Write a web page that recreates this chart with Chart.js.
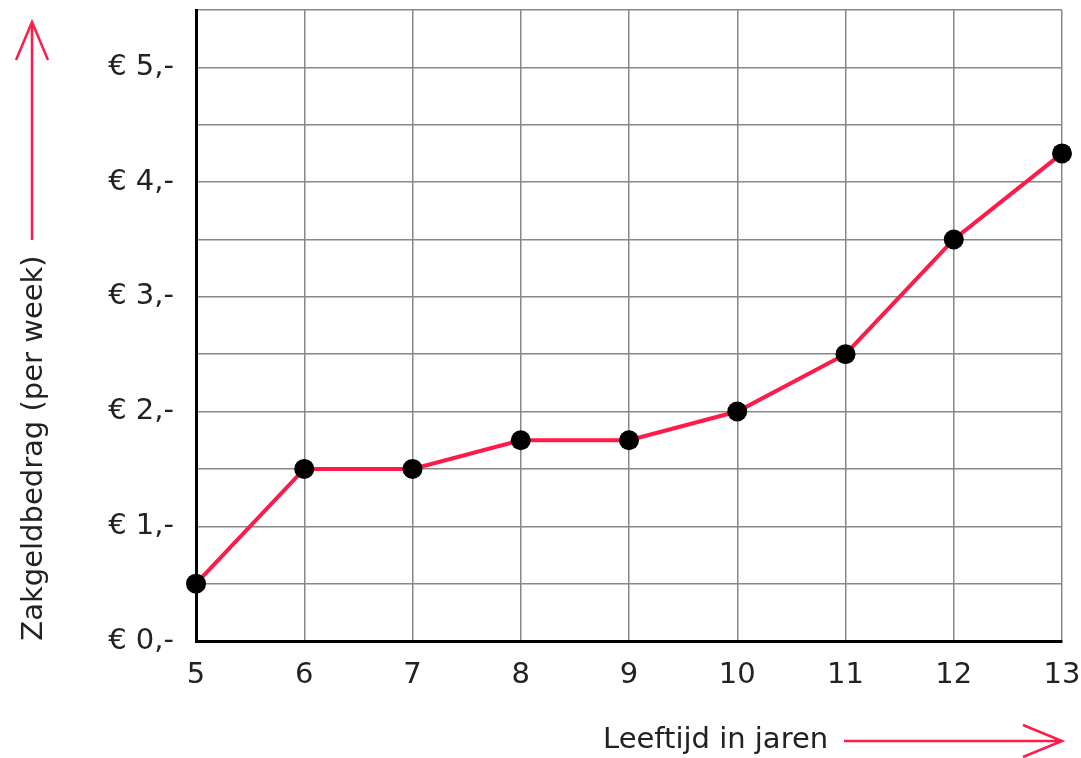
<!DOCTYPE html>
<html>
<head>
<meta charset="utf-8">
<script src="https://cdn.jsdelivr.net/npm/chart.js@4.4.1/dist/chart.umd.min.js"></script>
<style>
  html, body { margin: 0; padding: 0; background: #fff; }
  #wrap { width: 1081px; height: 758px; position: relative; }
</style>
</head>
<body>
<div id="wrap"><canvas id="chart"></canvas></div>
<script>
// leeftijd (jaren) en zakgeld per week (euro)
var ages = [5, 6, 7, 8, 9, 10, 11, 12, 13];
var amounts = [0.5, 1.5, 1.5, 1.75, 1.75, 2.0, 2.5, 3.5, 4.25];
var yTitle = 'Zakgeldbedrag (per week)';
var xTitle = 'Leeftijd in jaren';

var RED = '#ff1a48';
var FONT = '"DejaVu Sans", Verdana, sans-serif';
var SIZE = 29;

var points = [];
for (var i = 0; i < ages.length; i++) {
    points.push({x: ages[i], y: amounts[i]});
}

// geen automatische ruimte voor de labels aan de randen
function noPad(s) {
    s.paddingTop = 0;
    s.paddingBottom = 0;
    s.paddingLeft = 0;
    s.paddingRight = 0;
}

// titels met pijlen
var arrowTitles = {
    id: 'arrowTitles',
    afterDraw: function(chart) {
        var ctx = chart.ctx;
        ctx.save();
        ctx.fillStyle = '#222';
        ctx.font = SIZE + 'px ' + FONT;

        // y-titel, gedraaid
        ctx.save();
        ctx.translate(34, 448);
        ctx.rotate(-Math.PI / 2);
        ctx.textAlign = 'center';
        ctx.textBaseline = 'middle';
        ctx.fillText(yTitle, 0, 0);
        ctx.restore();

        ctx.strokeStyle = RED;
        ctx.lineWidth = 2.5;
        ctx.beginPath();
        ctx.moveTo(32, 240);
        ctx.lineTo(32, 22);
        ctx.moveTo(16, 60);
        ctx.lineTo(32, 22);
        ctx.lineTo(48, 60);
        ctx.stroke();

        // x-titel
        ctx.textAlign = 'left';
        ctx.textBaseline = 'middle';
        ctx.fillText(xTitle, 603, 740);

        ctx.beginPath();
        ctx.moveTo(844, 741);
        ctx.lineTo(1062, 741);
        ctx.moveTo(1023, 725);
        ctx.lineTo(1062, 741);
        ctx.lineTo(1023, 757);
        ctx.stroke();
        ctx.restore();
    }
};

new Chart(document.getElementById('chart'), {
    type: 'scatter',
    data: {
        datasets: [{
            data: points,
            showLine: true,
            borderColor: RED,
            borderWidth: 4,
            pointBackgroundColor: '#000',
            pointBorderColor: '#000',
            pointBorderWidth: 0,
            pointRadius: 10,
            pointHoverRadius: 10,
            clip: false
        }]
    },
    options: {
        responsive: true,
        maintainAspectRatio: false,
        animation: false,
        events: [],
        layout: { padding: { top: 8, right: 19, left: 0, bottom: 0 } },
        plugins: {
            legend: { display: false },
            tooltip: { enabled: false }
        },
        scales: {
            x: {
                type: 'linear',
                min: 5,
                max: 13,
                afterFit: function(s) { s.height = 117; noPad(s); },
                border: { color: '#000', width: 3 },
                grid: { color: '#888', lineWidth: 1.5, drawTicks: false },
                ticks: {
                    stepSize: 1,
                    padding: 17,
                    color: '#222',
                    font: { family: FONT, size: SIZE }
                }
            },
            y: {
                min: 0,
                max: 5.5,
                afterFit: function(s) { s.width = 196; noPad(s); },
                border: { color: '#000', width: 3 },
                grid: { color: '#888', lineWidth: 1.5, drawTicks: false },
                ticks: {
                    stepSize: 0.5,
                    padding: 22,
                    color: '#222',
                    font: { family: FONT, size: SIZE },
                    callback: function(v) {
                        return Number.isInteger(v) ? '€ ' + v + ',-' : '';
                    }
                }
            }
        }
    },
    plugins: [arrowTitles]
});
</script>
</body>
</html>
